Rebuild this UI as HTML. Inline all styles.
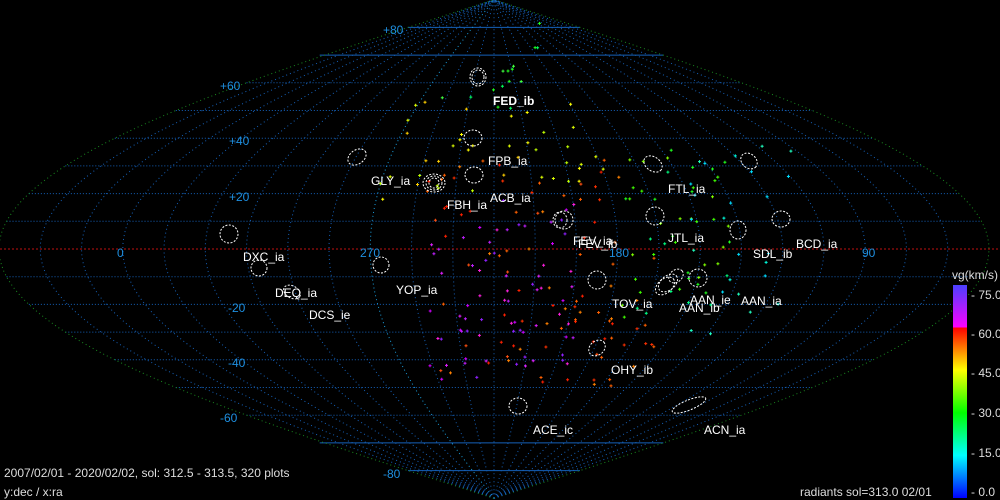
<!DOCTYPE html>
<html><head><meta charset="utf-8"><style>
html,body{margin:0;padding:0;background:#000;width:1000px;height:500px;overflow:hidden}
svg{display:block}
text{font-family:"Liberation Sans",sans-serif;font-size:12px}
</style></head><body>
<svg id="s" width="1000" height="500" xmlns="http://www.w3.org/2000/svg">
<defs><linearGradient id="cb" x1="0" y1="1" x2="0" y2="0">
<stop offset="0" stop-color="#0000ff"/><stop offset="0.2" stop-color="#00ffff"/><stop offset="0.4" stop-color="#00ff00"/><stop offset="0.6" stop-color="#ffff00"/><stop offset="0.8" stop-color="#ff0000"/><stop offset="0.8" stop-color="#ff00ff"/><stop offset="1" stop-color="#4a40ff"/></linearGradient></defs>
<g id="grid"></g>
<line x1="0" y1="249" x2="1000" y2="249" stroke="#c01010" stroke-width="1" stroke-dasharray="2 2"/>
<g id="dots"></g>
<g fill="none" stroke="#fff" stroke-width="1" stroke-dasharray="2 1.5">
<ellipse cx="478" cy="77" rx="8" ry="9"/><ellipse cx="478" cy="77" rx="6" ry="7"/>
<ellipse cx="473" cy="138" rx="9" ry="8"/><ellipse cx="474" cy="175" rx="9" ry="8"/>
<ellipse cx="357" cy="157" rx="10" ry="7" transform="rotate(-35 357 157)"/>
<ellipse cx="434" cy="183" rx="11" ry="9"/><ellipse cx="434" cy="183" rx="8" ry="7"/><ellipse cx="434" cy="183" rx="5" ry="5"/>
<ellipse cx="564" cy="220" rx="9" ry="9"/><ellipse cx="560" cy="220" rx="7" ry="8"/>
<ellipse cx="653" cy="164" rx="10" ry="7" transform="rotate(35 653 164)"/>
<ellipse cx="655" cy="216" rx="9" ry="9"/><ellipse cx="749" cy="161" rx="9" ry="7" transform="rotate(40 749 161)"/>
<ellipse cx="781" cy="219" rx="9" ry="8"/><ellipse cx="738" cy="230" rx="8" ry="9"/>
<ellipse cx="698" cy="278" rx="9" ry="9"/><ellipse cx="597" cy="280" rx="9" ry="9"/>
<ellipse cx="665" cy="286" rx="11" ry="7" transform="rotate(-40 665 286)"/><ellipse cx="668" cy="283" rx="11" ry="7" transform="rotate(-40 668 283)"/><ellipse cx="676" cy="276" rx="8" ry="6" transform="rotate(-40 676 276)"/>
<ellipse cx="597" cy="348" rx="9" ry="7" transform="rotate(-40 597 348)"/>
<ellipse cx="518" cy="406" rx="9" ry="8"/>
<ellipse cx="689" cy="405" rx="18" ry="5" transform="rotate(-22 689 405)"/>
<ellipse cx="229" cy="234" rx="9" ry="9"/><ellipse cx="259" cy="268" rx="8" ry="8"/>
<ellipse cx="292" cy="292" rx="9" ry="6" transform="rotate(30 292 292)"/><ellipse cx="381" cy="265" rx="8" ry="8"/>
</g>
<g fill="#1e8fe0">
<text x="383" y="34">+80</text><text x="220" y="90">+60</text><text x="229" y="145">+40</text><text x="229" y="201">+20</text>
<text x="117" y="257">0</text><text x="228" y="312">-20</text><text x="228" y="367">-40</text><text x="220" y="422">-60</text><text x="383" y="478">-80</text>
<text x="360" y="257">270</text><text x="609" y="257">180</text><text x="862" y="257">90</text>
</g>
<g fill="#fff">
<text x="493" y="105" font-weight="bold">FED_ib</text><text x="488" y="165">FPB_ia</text><text x="371" y="185">GLY_ia</text>
<text x="490" y="202">ACB_ia</text><text x="447" y="209">FBH_ia</text><text x="668" y="193">FTL_ia</text>
<text x="668" y="242">JTL_ia</text><text x="796" y="248">BCD_ia</text><text x="578" y="248">FEV_ib</text><text x="573" y="245">FEV_ia</text>
<text x="753" y="258">SDL_ib</text><text x="243" y="261">DXC_ia</text><text x="396" y="294">YOP_ia</text>
<text x="275" y="297">DEQ_ia</text><text x="309" y="319">DCS_ie</text><text x="612" y="308">TOV_ia</text>
<text x="690" y="304">AAN_ie</text><text x="741" y="305">AAN_ia</text><text x="679" y="312">AAN_ib</text>
<text x="611" y="374">OHY_ib</text><text x="533" y="434">ACE_ic</text><text x="704" y="434">ACN_ia</text>
</g>
<rect x="953" y="285" width="14" height="213" fill="url(#cb)"/>
<g fill="#ddd">
<text x="952" y="279">vg(km/s)</text>
<text x="971" y="299">- 75.0</text><text x="971" y="338">- 60.0</text><text x="971" y="377">- 45.0</text>
<text x="971" y="417">- 30.0</text><text x="971" y="457">- 15.0</text><text x="971" y="496">-  0.0</text>
<text x="4" y="477">2007/02/01 - 2020/02/02,  sol: 312.5 - 313.5, 320 plots</text>
<text x="4" y="496">y:dec / x:ra</text>
<text x="800" y="496">radiants sol=313.0 02/01</text>
</g>
</svg>
<script>
var NS="http://www.w3.org/2000/svg",g=document.getElementById("grid"),d=document.getElementById("dots");
function el(p,t,a){var e=document.createElementNS(NS,t);for(var k in a)e.setAttribute(k,a[k]);p.appendChild(e);return e;}
var cx=494,cy=249,kx=2.75,ky=2.77;
function P(ra,dec){var l=225-ra;return [cx+l*kx*Math.cos(dec*Math.PI/180),cy-dec*ky];}
for(var lat=-80;lat<=80;lat+=10){if(lat==0)continue;var hw=180*kx*Math.cos(lat*Math.PI/180),y=cy-lat*ky;
 var solid=Math.abs(lat)>=70;
 el(g,"line",{x1:cx-hw-(solid?(Math.abs(lat)==80?0:5):0),y1:y,x2:cx+hw,y2:y,stroke:"#1560b8","stroke-width":1,"stroke-dasharray":solid?"none":"1 2"});}
for(var ra=45;ra<=405;ra+=15){var pts=[];for(var dec=-90;dec<=90;dec+=2){var p=P(ra,dec);pts.push(p[0].toFixed(1)+","+p[1].toFixed(1));}
 var edge=(ra==45||ra==405);var c=edge?"#1a8a20":(ra==270?"#1aa0e0":"#1560b8");
 el(g,"polyline",{points:pts.join(" "),fill:"none",stroke:c,"stroke-width":1,"stroke-dasharray":"1 3"});}
var s=7;function r(){s=(s*16807)%2147483647;return s/2147483647;}
function cl(x0,x1,y0,y1,n,cols){for(var i=0;i<n;i++){var x=x0+r()*(x1-x0),y=y0+r()*(y1-y0),c=cols[Math.floor(r()*cols.length)];
 el(d,"path",{d:"M"+(x-1.5).toFixed(1)+" "+y.toFixed(1)+"h3M"+x.toFixed(1)+" "+(y-1.5).toFixed(1)+"v3",stroke:c,"stroke-width":1});}}
cl(430,580,200,380,70,["#e020ff","#d000ff","#c020ff","#ff20e0","#9020ff"]);
cl(420,620,160,390,70,["#ff6000","#ff3000","#ff8000","#ff2000","#ff5010"]);
cl(380,610,100,200,40,["#ffff00","#e0ff00","#ffd000","#c0ff00"]);
cl(440,540,20,110,15,["#20ff20","#40ff40","#00ff60"]);
cl(620,730,150,320,50,["#20ff20","#40ff00","#80ff00","#00ff80"]);
cl(690,800,140,340,25,["#00ffe0","#00e0ff","#20ffc0"]);
cl(560,660,250,390,20,["#ff6000","#ff8000","#ff3000"]);
</script>
</body></html>
